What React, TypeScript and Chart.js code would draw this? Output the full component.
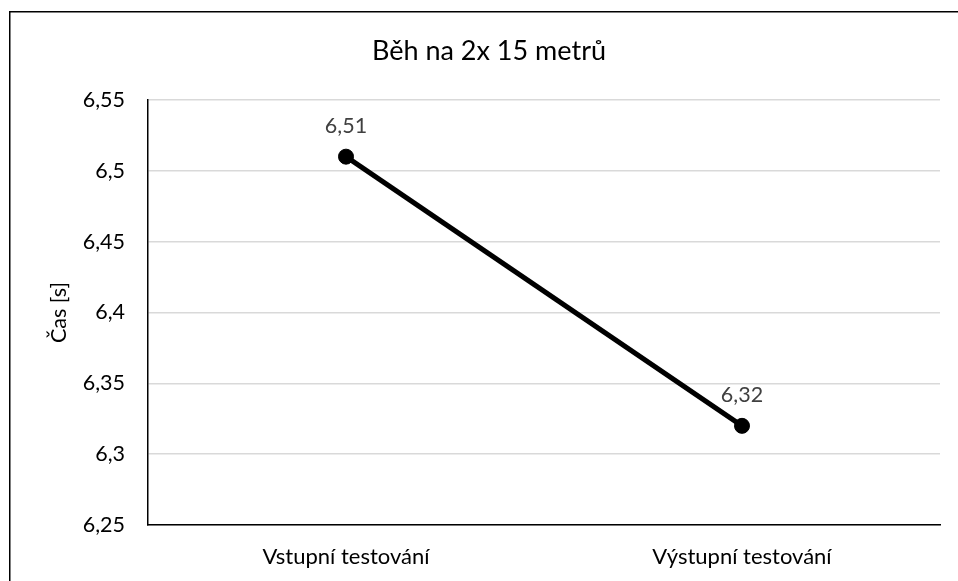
import React, { useEffect, useRef } from "react";
import { Chart, registerables } from "chart.js";

Chart.register(...registerables);

const title = "Běh na 2x 15 metrů";
const yAxisTitle = "Čas [s]";
const categories = ["Vstupní testování", "Výstupní testování"];
const times = [6.51, 6.32];
const yMin = 6.25;
const yMax = 6.55;
const yStep = 0.05;

const FONT = "Lato";

const fmt = (v: number) => Number(v.toFixed(2)).toString().replace(".", ",");

export default function App() {
  const ref = useRef<HTMLCanvasElement | null>(null);
  useEffect(() => {
    document.body.style.margin = "0";
    const canvas = ref.current!;
    const framePlugin = {
      id: "frame",
      beforeDraw(chart: any) {
        const ctx = chart.ctx;
        ctx.save();
        ctx.fillStyle = "#fff";
        ctx.fillRect(0, 0, chart.width, chart.height);
        ctx.strokeStyle = "#000";
        ctx.lineWidth = 1.5;
        ctx.strokeRect(9.75, 11.75, 2000, 2000);
        ctx.fillStyle = "#000";
        ctx.font = `27px ${FONT}`;
        ctx.textAlign = "center";
        ctx.textBaseline = "alphabetic";
        ctx.fillText(title, 489, 59.5);
        ctx.restore();
      },
    };
    const labelPlugin = {
      id: "valueLabels",
      afterDatasetsDraw(chart: any) {
        const ctx = chart.ctx;
        const meta = chart.getDatasetMeta(0);
        const data = chart.data.datasets[0].data as number[];
        ctx.save();
        ctx.fillStyle = "#404040";
        ctx.font = `21.5px ${FONT}`;
        ctx.textAlign = "center";
        ctx.textBaseline = "middle";
        meta.data.forEach((pt: any, i: number) => {
          ctx.fillText(fmt(data[i]), pt.x, pt.y - 31);
        });
        ctx.restore();
      },
    };
    const chart = new Chart(canvas, {
      type: "line",
      data: {
        labels: categories,
        datasets: [
          {
            data: times,
            borderColor: "#000",
            borderWidth: 5,
            pointRadius: 7.5,
            pointBackgroundColor: "#000",
            pointBorderColor: "#000",
            pointBorderWidth: 1,
            tension: 0,
          },
        ],
      },
      options: {
        responsive: false,
        animation: false,
        devicePixelRatio: 1,
        layout: { padding: { left: 0, right: 18, top: 100, bottom: 0 } },
        plugins: {
          legend: { display: false },
          tooltip: { enabled: false },
          title: { display: false },
        },
        scales: {
          x: {
            offset: true,
            grid: { display: false, drawTicks: false },
            border: { display: true, color: "#000", width: 1.5 },
            ticks: {
              color: "#000",
              font: { family: FONT, size: 22, lineHeight: 1.2 },
              padding: 19,
              maxRotation: 0,
            },
            afterFit(scale: any) {
              scale.height = 56;
            },
          },
          y: {
            min: yMin,
            max: yMax,
            grid: { color: "#d9d9d9", lineWidth: 1.5, drawTicks: false },
            border: { display: true, color: "#000", width: 1.5 },
            ticks: {
              stepSize: yStep,
              color: "#000",
              font: { family: FONT, size: 21.5 },
              padding: 23,
              callback: (v: any) => fmt(Number(v)),
            },
            title: {
              display: true,
              text: yAxisTitle,
              color: "#000",
              font: { family: FONT, size: 21.5, lineHeight: 1.2 },
              padding: { top: 46, bottom: 0 },
            },
            afterFit(scale: any) {
              scale.width = 148;
            },
          },
        },
      },
      plugins: [framePlugin, labelPlugin],
    });
    return () => chart.destroy();
  }, []);
  return (
    <div style={{ width: 958, height: 581 }}>
      <canvas ref={ref} width={958} height={581} style={{ display: "block" }} />
    </div>
  );
}
